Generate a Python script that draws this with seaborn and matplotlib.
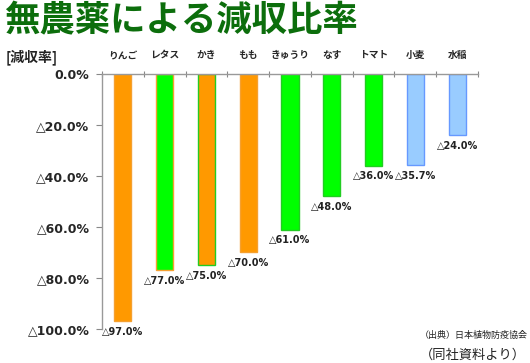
import matplotlib
matplotlib.use("Agg")
import matplotlib.pyplot as plt
import seaborn as sns
import pandas as pd
import numpy as np

# data
crops = ['りんご', 'レタス', 'かき', 'もも', 'きゅうり', 'なす', 'トマト', '小麦', '水稲']
loss_rate = [97.0, 77.0, 75.0, 70.0, 61.0, 48.0, 36.0, 35.7, 24.0]
crop_type = ['fruit', 'veg', 'fruit', 'fruit', 'veg', 'veg', 'veg', 'grain', 'grain']
y_ticks = [0, -20, -40, -60, -80, -100]
y_labels = ['0.0%', '△20.0%', '△40.0%', '△60.0%', '△80.0%', '△100.0%']

fill = {'fruit': '#ff9900', 'veg': '#00ff00', 'grain': '#99ccff'}
edge = {'fruit': '#f5a030', 'veg': '#22cc22', 'grain': '#6699ff'}

df = pd.DataFrame({'crop': crops, 'rate': [-v for v in loss_rate], 'type': crop_type})

sns.set_style('white')
jp = ['Noto Sans CJK JP', 'DejaVu Sans']
num = ['DejaVu Sans', 'Noto Sans CJK JP']
plt.rcParams['font.family'] = jp

fig = plt.figure(figsize=(5.3, 3.63), dpi=100)
ax = fig.add_axes([0.1925, 0.0937, 0.7095, 0.7025])

sns.barplot(data=df, x='crop', y='rate', hue='type', palette=fill, dodge=False,
            width=0.41, saturation=1, legend=False, ax=ax)
for patch, t in zip(ax.patches, crop_type):
    patch.set_edgecolor(edge[t])
    patch.set_linewidth(1.0)

ax.set_xlim(-0.5, len(crops) - 0.5)
ax.set_ylim(-100, 0)
ax.set_xlabel('')
ax.set_ylabel('')

# category labels on top, ticks at category boundaries
ax.xaxis.tick_top()
ax.set_xticks(range(len(crops)))
ax.set_xticklabels(crops, fontsize=7, fontweight='bold', family=jp)
ax.tick_params(axis='x', which='major', length=0, pad=10)
ax.set_xticks(np.arange(-0.5, len(crops), 1.0), minor=True)
ax.tick_params(axis='x', which='minor', length=5, direction='inout', color='#888888', width=0.8)

ax.set_yticks(y_ticks)
ax.set_yticklabels(y_labels, fontsize=9, fontweight='bold', family=num)
ax.tick_params(axis='y', length=4, direction='out', color='#888888', width=0.8, pad=5, left=True)

for side in ['right', 'bottom']:
    ax.spines[side].set_visible(False)
for side in ['top', 'left']:
    ax.spines[side].set_color('#999999')
    ax.spines[side].set_linewidth(1.0)

for i, v in enumerate(loss_rate):
    ax.text(i, -v - 2.2, f'△{v:.1f}%', ha='center', va='top', fontsize=7,
            fontweight='bold', family=num, color='#222222')

fig.text(0.008, 0.992, '無農薬による減収比率', ha='left', va='top', fontsize=25.5,
         fontweight='bold', color='#0c6e0c', family=jp)
fig.text(0.01, 0.843, '[減収率]', ha='left', va='center', fontsize=10,
         fontweight='bold', family=jp, color='#222222')
fig.text(0.995, 0.077, '（出典）日本植物防疫協会', ha='right', va='center', fontsize=6.5,
         family=jp, color='#222222')
fig.text(0.992, 0.022, '（同社資料より）', ha='right', va='center', fontsize=9.5,
         family=jp, color='#222222')

fig.savefig('out.png', dpi=100)
